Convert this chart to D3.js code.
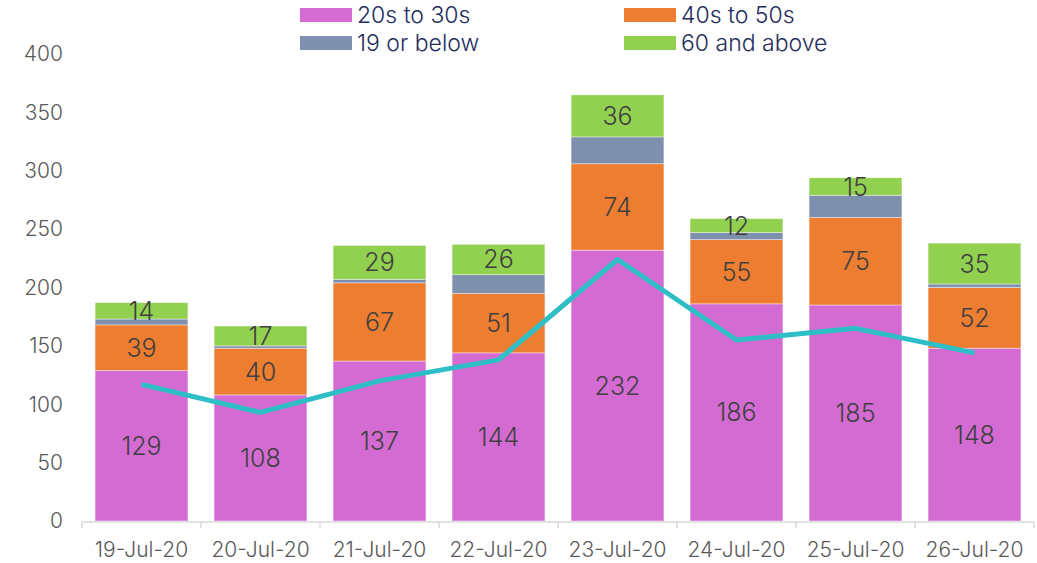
<!DOCTYPE html>
<html>
<head>
<meta charset="utf-8">
<script src="https://cdn.jsdelivr.net/npm/d3@7"></script>
<style>
  body { margin: 0; background: #fff; }
  svg { display: block; font-family: Inter, "Noto Sans", sans-serif; font-weight: 300; }
</style>
</head>
<body>
<div id="chart"></div>
<script>
// data
const categories = ["19-Jul-20", "20-Jul-20", "21-Jul-20", "22-Jul-20", "23-Jul-20", "24-Jul-20", "25-Jul-20", "26-Jul-20"];
const age20to30 = [129, 108, 137, 144, 232, 186, 185, 148];
const age40to50 = [39, 40, 67, 51, 74, 55, 75, 52];
const age19below = [5, 2, 3, 16, 23, 6, 19, 3];
const age60above = [14, 17, 29, 26, 36, 12, 15, 35];
const lineValues = [117, 93, 120, 138, 224, 155, 165, 144];
const yTicks = [0, 50, 100, 150, 200, 250, 300, 350, 400];

const seriesNames = ["20s to 30s", "40s to 50s", "19 or below", "60 and above"];
const seriesData = [age20to30, age40to50, age19below, age60above];
const colors = ["#D46BD3", "#ED7D31", "#7F8FAE", "#92D050"];
const showLabel = [true, true, false, true];

const width = 1037, height = 563;
const margin = { top: 54, right: 3, bottom: 42, left: 82 };

const svg = d3.select("#chart").append("svg")
  .attr("width", width)
  .attr("height", height);

const x = d3.scaleBand()
  .domain(categories)
  .range([margin.left, width - margin.right])
  .paddingInner(0.22)
  .paddingOuter(0.11);

const y = d3.scaleLinear()
  .domain([0, 400])
  .range([height - margin.bottom, margin.top]);

// stack the four series
const rows = categories.map((c, i) => {
  const r = { cat: c };
  seriesNames.forEach((s, k) => r[s] = seriesData[k][i]);
  return r;
});
const stacked = d3.stack().keys(seriesNames)(rows);

// y tick labels (no axis line)
svg.append("g")
  .selectAll("text")
  .data(yTicks)
  .enter()
  .append("text")
  .attr("x", 63)
  .attr("y", d => y(d))
  .attr("dy", "0.35em")
  .attr("text-anchor", "end")
  .attr("fill", "#595959")
  .style("font-size", "21px")
  .text(d => d);

// bars
const layers = svg.append("g")
  .selectAll("g")
  .data(stacked)
  .enter()
  .append("g")
  .attr("fill", (d, i) => colors[i]);

layers.selectAll("rect")
  .data(d => d)
  .enter()
  .append("rect")
  .attr("x", d => x(d.data.cat))
  .attr("width", x.bandwidth())
  .attr("y", d => y(d[1]))
  .attr("height", d => y(d[0]) - y(d[1]))
  .attr("stroke", "#fff")
  .attr("stroke-opacity", 0.5)
  .attr("stroke-width", 0.8);

// category axis along the bottom
const axisY = y(0);
const xAxis = svg.append("g");
xAxis.append("line")
  .attr("x1", margin.left)
  .attr("x2", width - margin.right)
  .attr("y1", axisY + 1)
  .attr("y2", axisY + 1)
  .attr("stroke", "#D9D9D9")
  .attr("stroke-width", 1.5);

const bounds = d3.range(categories.length + 1).map(i => margin.left + i * (width - margin.left - margin.right) / categories.length);
xAxis.selectAll(".tick")
  .data(bounds)
  .enter()
  .append("line")
  .attr("x1", d => d)
  .attr("x2", d => d)
  .attr("y1", axisY + 1)
  .attr("y2", axisY + 7)
  .attr("stroke", "#D9D9D9")
  .attr("stroke-width", 1.5);

xAxis.selectAll("text")
  .data(categories)
  .enter()
  .append("text")
  .attr("x", d => x(d) + x.bandwidth() / 2)
  .attr("y", 557)
  .attr("text-anchor", "middle")
  .attr("fill", "#595959")
  .style("font-size", "21px")
  .text(d => d);

// line series
const line = d3.line()
  .x((d, i) => x(categories[i]) + x.bandwidth() / 2)
  .y(d => y(d));

svg.append("path")
  .datum(lineValues)
  .attr("fill", "none")
  .attr("stroke", "#2EBFC6")
  .attr("stroke-width", 5)
  .attr("stroke-linejoin", "round")
  .attr("d", line);

// data labels
const labelGroup = svg.append("g");
stacked.forEach((layer, k) => {
  if (!showLabel[k]) return;
  labelGroup.selectAll(".lbl" + k)
    .data(layer)
    .enter()
    .append("text")
    .attr("x", d => x(d.data.cat) + x.bandwidth() / 2)
    .attr("y", d => (y(d[0]) + y(d[1])) / 2)
    .attr("dy", "0.36em")
    .attr("text-anchor", "middle")
    .attr("fill", "#404040")
    .style("font-size", "25px")
    .text(d => d[1] - d[0]);
});

// legend, two columns
const legendPos = [[300, 8], [624, 8], [300, 36], [624, 36]];
const legend = svg.append("g")
  .selectAll("g")
  .data(seriesNames)
  .enter()
  .append("g")
  .attr("transform", (d, i) => "translate(" + legendPos[i][0] + "," + legendPos[i][1] + ")");

legend.append("rect")
  .attr("width", 52)
  .attr("height", 14)
  .attr("fill", (d, i) => colors[i]);

legend.append("text")
  .attr("x", 57)
  .attr("y", 7)
  .attr("dy", "0.36em")
  .attr("fill", "#1F2D5C")
  .style("font-size", "23px")
  .text(d => d);
</script>
</body>
</html>
